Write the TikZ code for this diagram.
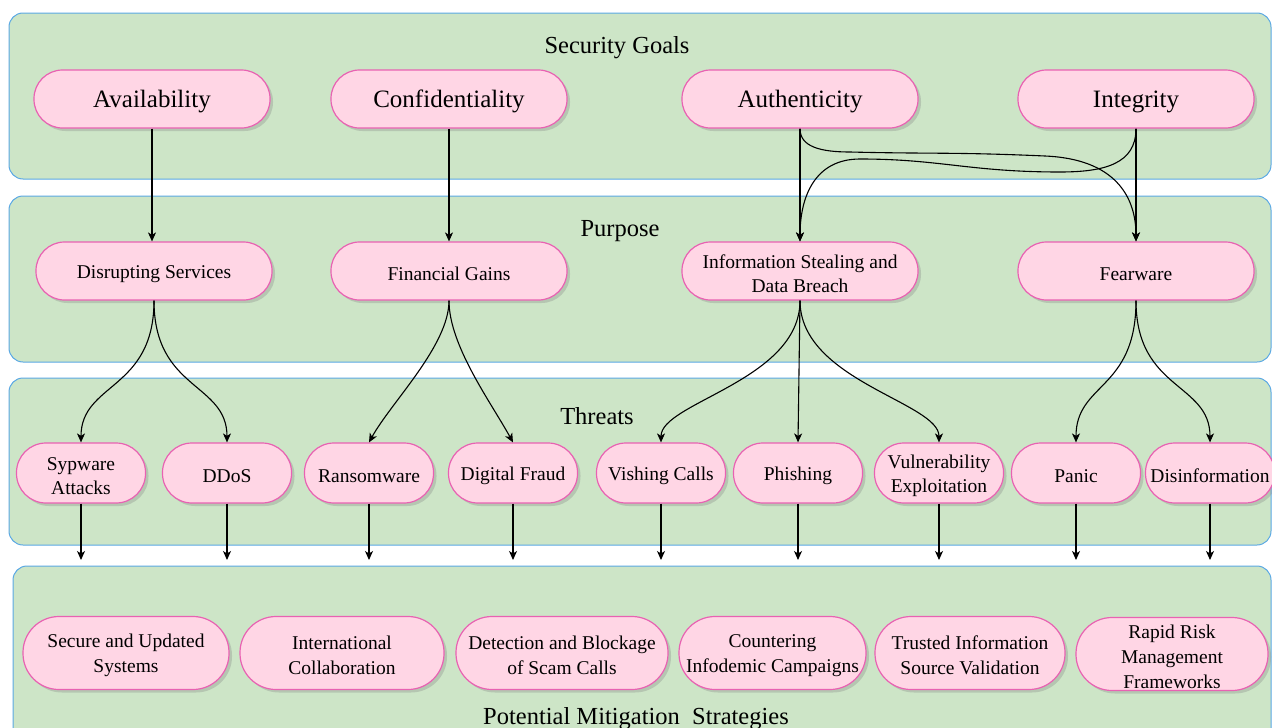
\documentclass[tikz,border=0pt]{standalone}
\usepackage{fontspec}
\setmainfont{Liberation Serif}
\usetikzlibrary{shadows,arrows.meta}
\definecolor{bandfill}{RGB}{205,229,199}
\definecolor{bandline}{RGB}{90,168,228}
\definecolor{pillfill}{RGB}{255,214,229}
\definecolor{pillline}{RGB}{232,98,178}
\newcommand{\lowerstrut}{\rule{0pt}{\dimexpr 0.683em+5pt\relax}}
\tikzset{
  band/.style={draw=bandline, fill=bandfill, rounded corners=14pt, line width=1pt},
  bandtitle/.style={font=\fontsize{24.5}{28}\selectfont, inner sep=0pt,
    execute at begin node=\lowerstrut},
  pill/.style={draw=pillline, fill=pillfill, line width=1.2pt, inner sep=0pt, align=center,
    drop shadow={opacity=0.3, shadow xshift=3pt, shadow yshift=-3pt},
    execute at begin node=\lowerstrut},
  goalpill/.style={pill, minimum width=236pt, minimum height=58pt, rounded corners=28.5pt,
    font=\fontsize{25}{28}\selectfont},
  purppill/.style={pill, minimum width=236pt, minimum height=58pt, rounded corners=28.5pt,
    font=\fontsize{19.5}{24}\selectfont},
  threatpill/.style={pill, minimum width=129pt, minimum height=60pt, rounded corners=29.5pt,
    font=\fontsize{19.5}{24}\selectfont},
  mitpill/.style={pill, minimum height=73pt, rounded corners=36pt,
    font=\fontsize{19.5}{25}\selectfont},
  arr/.style={-{Stealth[length=9pt,width=8pt,inset=2.5pt]}, line width=1.1pt, black},
}
\begin{document}
\begin{tikzpicture}[x=1pt,y=-1pt]
\useasboundingbox (0,0) rectangle (1272,728);
% bands
\draw[band] (9,13) rectangle (1271,179);
\draw[band] (9,196) rectangle (1271,362);
\draw[band] (9,378) rectangle (1271,545);
\draw[band] (13,566) rectangle (1271,780);
% band titles
\node[bandtitle] (t1) at (617,45) {Security Goals};
\node[bandtitle] (t2) at (620,228) {Purpose};
\node[bandtitle] (t3) at (597,414) {Threats};
\node[bandtitle] (t4) at (636,716) {Potential Mitigation~~Strategies};
% security goals
\node[goalpill] (avail) at (152,99) {Availability};
\node[goalpill] (conf) at (449,99) {Confidentiality};
\node[goalpill] (auth) at (800,99) {Authenticity};
\node[goalpill] (integ) at (1136,99) {Integrity};
% purpose
\node[purppill] (disr) at (154,271) {Disrupting Services};
\node[purppill] (fin) at (449,271) {Financial Gains};
\node[purppill] (info) at (800,271) {\lowerstrut Information Stealing and\\Data Breach};
\node[purppill] (fear) at (1136,271) {Fearware};
% threats
\node[threatpill] (syp) at (81,473) {\lowerstrut Sypware\\Attacks};
\node[threatpill] (ddos) at (227,473) {DDoS};
\node[threatpill] (ransom) at (369,473) {Ransomware};
\node[threatpill] (fraud) at (513,473) {Digital Fraud};
\node[threatpill] (vish) at (661,473) {Vishing Calls};
\node[threatpill] (phish) at (798,473) {Phishing};
\node[threatpill] (vuln) at (939,473) {\lowerstrut Vulnerability\\Exploitation};
\node[threatpill] (panic) at (1076,473) {Panic};
\node[threatpill] (disinf) at (1210,473) {Disinformation};
% mitigation
\node[mitpill, minimum width=206pt] (secure) at (126,653) {\lowerstrut Secure and Updated\\Systems};
\node[mitpill, minimum width=204pt] (intl) at (342,653) {\lowerstrut International\\Collaboration};
\node[mitpill, minimum width=212pt] (detect) at (562,653) {\lowerstrut Detection and Blockage\\of Scam Calls};
\node[mitpill, minimum width=187pt] (counter) at (772.5,653) {\lowerstrut Countering\\Infodemic Campaigns};
\node[mitpill, minimum width=190pt] (trusted) at (970,653) {\lowerstrut Trusted Information\\Source Validation};
\node[mitpill, minimum width=192pt] (rapid) at (1172,654) {\lowerstrut Rapid Risk\\Management\\Frameworks};
% goals -> purpose
\draw[arr] (avail.south) -- (avail.south |- disr.north);
\draw[arr] (conf.south) -- (fin.north);
\draw[arr] (auth.south) -- (info.north);
\draw[arr] (integ.south) -- (fear.north);
\draw[arr] (auth.south) .. controls +(0,18) and +(-30,0) .. (850,152)
  .. controls +(80,2) and +(-90,-4) .. (1045,156)
  .. controls +(70,3) and +(0,-45) .. (fear.north);
\draw[arr] (integ.south) .. controls +(0,35) and +(45,0) .. (1060,172)
  .. controls +(-90,0) and +(80,0) .. (860,159)
  .. controls +(-45,0) and +(0,-45) .. (info.north);
% purpose -> threats
\draw[arr] (disr.south) .. controls +(0,90) and +(0,-60) .. (syp.north);
\draw[arr] (disr.south) .. controls +(0,90) and +(0,-60) .. (ddos.north);
\draw[arr] (fin.south) .. controls +(0,45) and +(22,-40) .. (ransom.north);
\draw[arr] (fin.south) .. controls +(0,45) and +(-22,-40) .. (fraud.north);
\draw[arr] (info.south) .. controls +(0,80) and +(0,-40) .. (vish.north);
\draw[arr] (info.south) -- (phish.north);
\draw[arr] (info.south) .. controls +(0,80) and +(0,-40) .. (vuln.north);
\draw[arr] (fear.south) .. controls +(0,90) and +(0,-60) .. (panic.north);
\draw[arr] (fear.south) .. controls +(0,90) and +(0,-60) .. (disinf.north);
% threats -> mitigation band
\coordinate (e1) at (81,560);
\coordinate (e2) at (227,560);
\coordinate (e3) at (369,560);
\coordinate (e4) at (513,560);
\coordinate (e5) at (661,560);
\coordinate (e6) at (798,560);
\coordinate (e7) at (939,560);
\coordinate (e8) at (1076,560);
\coordinate (e9) at (1210,560);
\draw[arr] (syp.south) -- (e1);
\draw[arr] (ddos.south) -- (e2);
\draw[arr] (ransom.south) -- (e3);
\draw[arr] (fraud.south) -- (e4);
\draw[arr] (vish.south) -- (e5);
\draw[arr] (phish.south) -- (e6);
\draw[arr] (vuln.south) -- (e7);
\draw[arr] (panic.south) -- (e8);
\draw[arr] (disinf.south) -- (e9);
\end{tikzpicture}
\end{document}
